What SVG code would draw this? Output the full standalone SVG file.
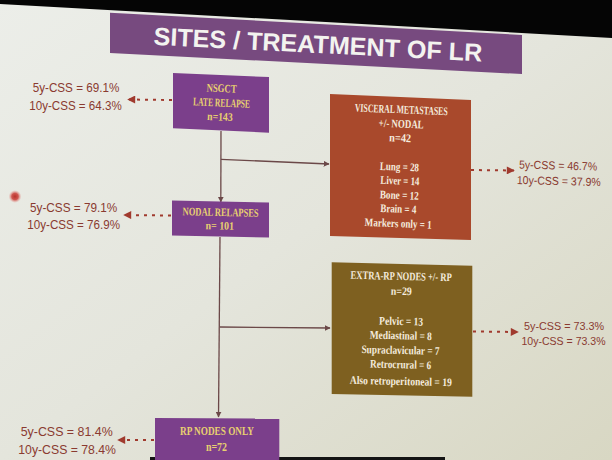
<svg xmlns="http://www.w3.org/2000/svg" width="612" height="460" viewBox="0 0 612 460">
<defs>
<linearGradient id="bg" x1="0" y1="0" x2="1" y2="1">
<stop offset="0" stop-color="#eceee9"/>
<stop offset="0.5" stop-color="#e4e5dc"/>
<stop offset="1" stop-color="#d8d7c3"/>
</linearGradient>
<radialGradient id="laser">
<stop offset="0" stop-color="#b8332c"/>
<stop offset="0.5" stop-color="#cf5650"/>
<stop offset="1" stop-color="#e8a8a0" stop-opacity="0"/>
</radialGradient>
<marker id="solidArrow" viewBox="0 0 10 10" refX="9" refY="5" markerWidth="6" markerHeight="6" markerUnits="userSpaceOnUse" orient="auto">
<path d="M0,0 L10,5 L0,10 z" fill="#6b4848"/>
</marker>
<marker id="dotArrow" viewBox="0 0 10 10" refX="9" refY="5" markerWidth="9" markerHeight="8" markerUnits="userSpaceOnUse" orient="auto">
<path d="M0,0 L10,5 L0,10 z" fill="#a03a2e"/>
</marker>
</defs>
<style>
.box-purple{fill:#7b3f8b}
.box-rust{fill:#a9492c}
.box-olive{fill:#7e6020}
.bt{font-family:"Liberation Serif","DejaVu Serif",serif;font-size:11.5px;font-weight:bold;text-anchor:middle}
.yel{fill:#e8d070}
.cream{fill:#f4ebdd}
.css{font-family:"Liberation Sans",Arial,sans-serif;fill:#8a3a30}
.solid{stroke:#6b4848;stroke-width:1.3;fill:none;marker-end:url(#solidArrow)}
.dotted{stroke:#a03a2e;stroke-width:2;stroke-dasharray:3 5;fill:none;marker-end:url(#dotArrow)}
</style>
<rect x="0" y="0" width="612" height="460" fill="url(#bg)"/>
<polygon points="0,0 612,0 612,38 0,4" fill="#050505"/>
<rect x="150" y="457" width="295" height="3" fill="#141414"/>

<g id="title">
<polygon points="110,12.7 522,35 522,74 110,53" fill="#774a7f"/>
<text x="317.5" y="53" transform="rotate(2.9 317.5 53)" font-family="Liberation Sans, Arial, sans-serif" font-weight="bold" font-size="25" fill="#f3f3ef" text-anchor="middle" textLength="329" lengthAdjust="spacingAndGlyphs">SITES / TREATMENT OF LR</text>
</g>

<g id="connectors">
<line class="solid" x1="221" y1="131" x2="220.8" y2="202"/>
<line class="solid" x1="221" y1="159.3" x2="329" y2="164"/>
<line class="solid" x1="220" y1="237" x2="218.5" y2="417"/>
<line class="solid" x1="219.5" y1="327" x2="330" y2="328"/>
<line class="dotted" x1="172" y1="100" x2="128" y2="99.5"/>
<line class="dotted" x1="171" y1="215.5" x2="124" y2="215"/>
<line class="dotted" x1="471" y1="170" x2="514" y2="170.5"/>
<line class="dotted" x1="473" y1="331.5" x2="518" y2="332"/>
<line class="dotted" x1="154" y1="440" x2="118" y2="440"/>
</g>

<g id="node-nsgct">
<polygon class="box-purple" points="173,73 269,77 269,132.7 173,128.3"/>
<g transform="rotate(2.4 221 103)">
<text class="bt yel" x="221" y="92" textLength="30" lengthAdjust="spacingAndGlyphs">NSGCT</text>
<text class="bt yel" x="221.5" y="106.5" textLength="57" lengthAdjust="spacingAndGlyphs">LATE RELAPSE</text>
<text class="bt yel" x="220.5" y="120.5" textLength="25.5" lengthAdjust="spacingAndGlyphs">n=143</text>
</g>
</g>

<g id="node-visceral">
<polygon class="box-rust" points="330,94 471,100 471,240 330,236"/>
<g transform="rotate(2.3 400 167)">
<text class="bt cream" x="399" y="113.3" textLength="93" lengthAdjust="spacingAndGlyphs">VISCERAL METASTASES</text>
<text class="bt cream" x="399.5" y="127.7" textLength="45" lengthAdjust="spacingAndGlyphs">+/- NODAL</text>
<text class="bt cream" x="399" y="141.7" textLength="22" lengthAdjust="spacingAndGlyphs">n=42</text>
<text class="bt cream" x="399.5" y="170.7" textLength="39" lengthAdjust="spacingAndGlyphs">Lung = 28</text>
<text class="bt cream" x="400.5" y="184.5" textLength="39" lengthAdjust="spacingAndGlyphs">Liver = 14</text>
<text class="bt cream" x="400.5" y="199" textLength="39" lengthAdjust="spacingAndGlyphs">Bone = 12</text>
<text class="bt cream" x="400" y="212.7" textLength="36" lengthAdjust="spacingAndGlyphs">Brain = 4</text>
<text class="bt cream" x="400.5" y="227.3" textLength="67" lengthAdjust="spacingAndGlyphs">Markers only = 1</text>
</g>
</g>

<g id="node-nodal">
<polygon class="box-purple" points="172,200.5 269,202.5 269,237.5 172,235.5"/>
<g transform="rotate(1.2 220.5 219)">
<text class="bt yel" x="220.5" y="216" textLength="76" lengthAdjust="spacingAndGlyphs">NODAL RELAPSES</text>
<text class="bt yel" x="220" y="229.5" textLength="28.5" lengthAdjust="spacingAndGlyphs">n= 101</text>
</g>
</g>

<g id="node-extrarp">
<polygon class="box-olive" points="331.7,262.3 472.3,265.7 472.3,396.7 331.7,394"/>
<g transform="rotate(1.3 401 329)">
<text class="bt cream" x="400" y="280" textLength="101" lengthAdjust="spacingAndGlyphs">EXTRA-RP NODES +/- RP</text>
<text class="bt cream" x="400.5" y="295" textLength="21" lengthAdjust="spacingAndGlyphs">n=29</text>
<text class="bt cream" x="401" y="325" textLength="44" lengthAdjust="spacingAndGlyphs">Pelvic = 13</text>
<text class="bt cream" x="401" y="339.3" textLength="62" lengthAdjust="spacingAndGlyphs">Mediastinal = 8</text>
<text class="bt cream" x="401" y="354" textLength="78" lengthAdjust="spacingAndGlyphs">Supraclavicular = 7</text>
<text class="bt cream" x="401.5" y="368.3" textLength="61" lengthAdjust="spacingAndGlyphs">Retrocrural = 6</text>
<text class="bt cream" x="402" y="385" textLength="102" lengthAdjust="spacingAndGlyphs">Also retroperitoneal = 19</text>
</g>
</g>

<g id="node-rp">
<polygon class="box-purple" points="155,418 279.3,418.5 279.3,460 155,460"/>
<text class="bt yel" x="217" y="435" textLength="74" lengthAdjust="spacingAndGlyphs">RP NODES ONLY</text>
<text class="bt yel" x="216.5" y="451" textLength="21" lengthAdjust="spacingAndGlyphs">n=72</text>
</g>

<g id="css-nsgct" class="css" font-size="13.5">
<text x="32.7" y="91.5" textLength="86.6" lengthAdjust="spacingAndGlyphs">5y-CSS = 69.1%</text>
<text x="29.3" y="109.5" textLength="92.4" lengthAdjust="spacingAndGlyphs">10y-CSS = 64.3%</text>
</g>

<g id="css-nodal" class="css" font-size="13.5">
<text x="30" y="211.7" textLength="87.3" lengthAdjust="spacingAndGlyphs">5y-CSS = 79.1%</text>
<text x="27.3" y="228.5" textLength="92.7" lengthAdjust="spacingAndGlyphs">10y-CSS = 76.9%</text>
</g>

<g id="css-rp" class="css" font-size="13.5">
<text x="20.7" y="435.7" textLength="92" lengthAdjust="spacingAndGlyphs">5y-CSS = 81.4%</text>
<text x="18.3" y="454" textLength="97.7" lengthAdjust="spacingAndGlyphs">10y-CSS = 78.4%</text>
</g>

<g id="css-visceral" class="css" font-size="11.5">
<text x="519" y="169.5" textLength="78" lengthAdjust="spacingAndGlyphs" transform="rotate(1.5 558 169.5)">5y-CSS = 46.7%</text>
<text x="516.7" y="185" textLength="84" lengthAdjust="spacingAndGlyphs" transform="rotate(1.5 558 185)">10y-CSS = 37.9%</text>
</g>

<g id="css-extrarp" class="css" font-size="11.5">
<text x="524" y="330" textLength="80" lengthAdjust="spacingAndGlyphs">5y-CSS = 73.3%</text>
<text x="521.5" y="345" textLength="84" lengthAdjust="spacingAndGlyphs">10y-CSS = 73.3%</text>
</g>

<circle cx="15" cy="196.5" r="6.5" fill="url(#laser)"/>
</svg>
